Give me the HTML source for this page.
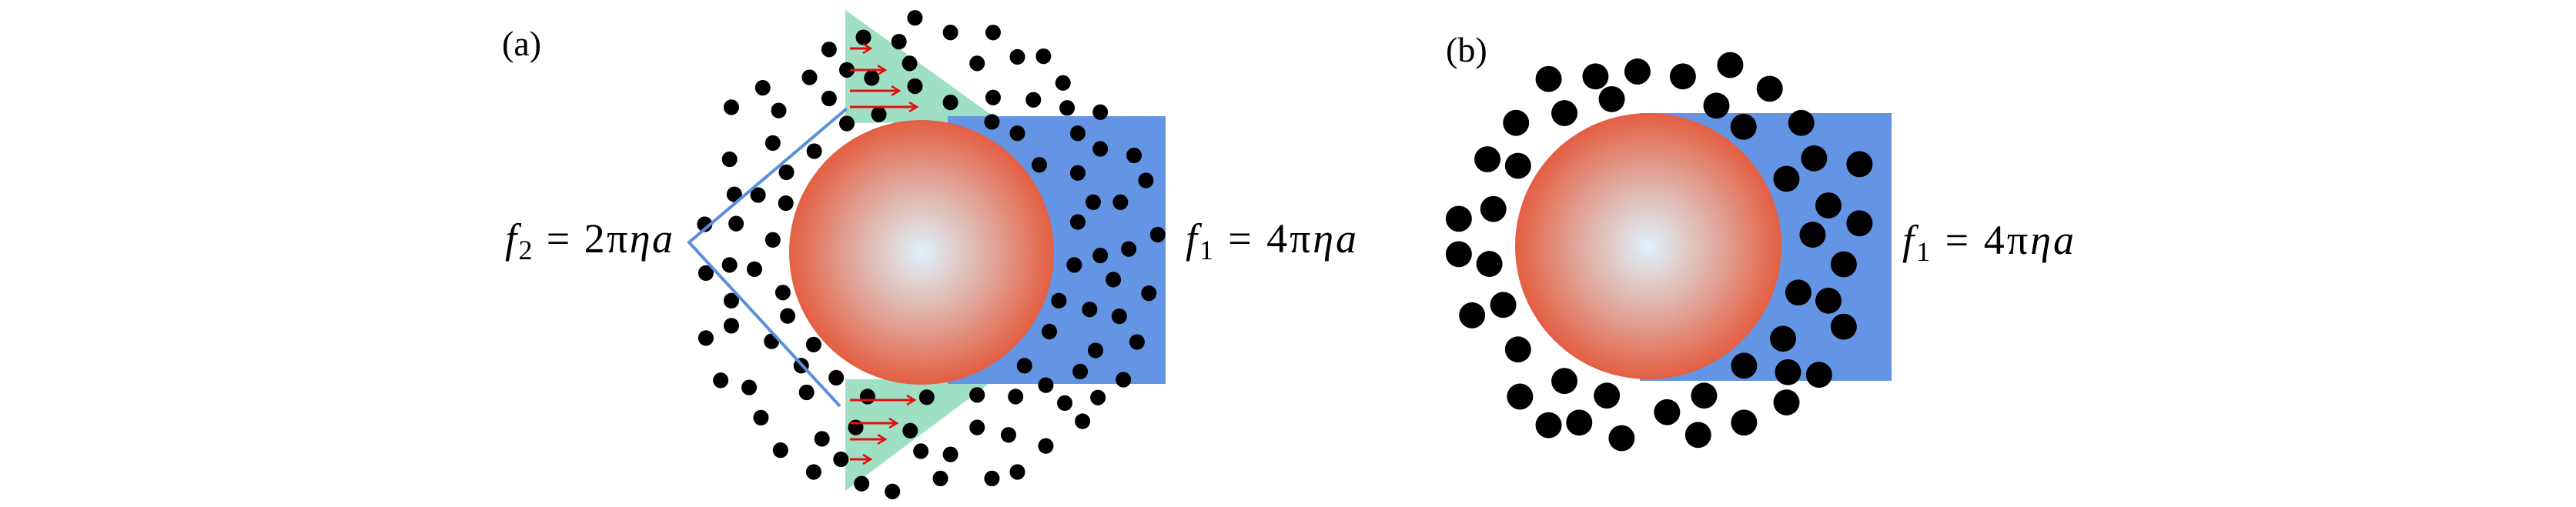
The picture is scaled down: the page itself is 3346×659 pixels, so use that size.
<!DOCTYPE html>
<html><head><meta charset="utf-8"><style>html,body{margin:0;padding:0;background:#fff;}svg{display:block}</style></head><body>
<svg width="3346" height="659" viewBox="0 0 3346 659" xmlns="http://www.w3.org/2000/svg">
<defs>
<radialGradient id="g" cx="0.5" cy="0.5" r="0.5">
<stop offset="0" stop-color="#dff2fb"/>
<stop offset="0.5" stop-color="#e0aca0"/>
<stop offset="1" stop-color="#e45e42"/>
</radialGradient>
<marker id="ah" markerWidth="14" markerHeight="14" refX="11" refY="7" orient="auto" markerUnits="userSpaceOnUse">
<path d="M1,1 L11,7 L1,13" fill="none" stroke="#e01010" stroke-width="2.5"/>
</marker>
</defs>
<rect width="3346" height="659" fill="#fff"/>
<!-- panel a -->
<polygon points="1098,13 1300,158 1098,160" fill="#9fe0c4"/>
<polygon points="1098,493 1292,493 1098,638" fill="#9fe0c4"/>
<rect x="1231" y="151" width="283" height="348" fill="#6495e4"/>
<circle cx="1197" cy="328" r="172" fill="url(#g)"/>
<g fill="#000" transform="translate(600,0) scale(0.7692,0.4225)">
<ellipse cx="765" cy="55" rx="13" ry="24"/><ellipse cx="825" cy="100" rx="13" ry="24"/><ellipse cx="897" cy="100" rx="13" ry="24"/><ellipse cx="678" cy="115" rx="13" ry="24"/><ellipse cx="738" cy="128" rx="13" ry="24"/><ellipse cx="620" cy="152" rx="13" ry="24"/><ellipse cx="938" cy="175" rx="13" ry="24"/><ellipse cx="982" cy="173" rx="13" ry="24"/><ellipse cx="756" cy="195" rx="13" ry="24"/><ellipse cx="870" cy="195" rx="13" ry="24"/><ellipse cx="587" cy="238" rx="13" ry="24"/><ellipse cx="650" cy="215" rx="13" ry="24"/><ellipse cx="692" cy="240" rx="13" ry="24"/><ellipse cx="1015" cy="255" rx="13" ry="24"/><ellipse cx="508" cy="270" rx="13" ry="24"/><ellipse cx="765" cy="265" rx="13" ry="24"/><ellipse cx="620" cy="303" rx="13" ry="24"/><ellipse cx="897" cy="300" rx="13" ry="24"/><ellipse cx="965" cy="307" rx="13" ry="24"/><ellipse cx="455" cy="330" rx="13" ry="24"/><ellipse cx="535" cy="340" rx="13" ry="24"/><ellipse cx="825" cy="315" rx="13" ry="24"/><ellipse cx="1022" cy="332" rx="13" ry="24"/><ellipse cx="1078" cy="345" rx="13" ry="24"/><ellipse cx="704" cy="352" rx="13" ry="24"/><ellipse cx="895" cy="375" rx="13" ry="24"/><ellipse cx="650" cy="380" rx="13" ry="24"/><ellipse cx="938" cy="410" rx="13" ry="24"/><ellipse cx="1040" cy="410" rx="13" ry="24"/><ellipse cx="525" cy="440" rx="13" ry="24"/><ellipse cx="595" cy="465" rx="13" ry="24"/><ellipse cx="1078" cy="458" rx="13" ry="24"/><ellipse cx="1135" cy="478" rx="13" ry="24"/><ellipse cx="452" cy="490" rx="13" ry="24"/><ellipse cx="975" cy="507" rx="13" ry="24"/><ellipse cx="548" cy="530" rx="13" ry="24"/><ellipse cx="1040" cy="532" rx="13" ry="24"/><ellipse cx="1155" cy="555" rx="13" ry="24"/><ellipse cx="460" cy="598" rx="13" ry="24"/><ellipse cx="500" cy="600" rx="13" ry="24"/><ellipse cx="547" cy="625" rx="13" ry="24"/><ellipse cx="1066" cy="622" rx="13" ry="24"/><ellipse cx="1112" cy="622" rx="13" ry="24"/><ellipse cx="410" cy="690" rx="13" ry="24"/><ellipse cx="463" cy="688" rx="13" ry="24"/><ellipse cx="1040" cy="683" rx="13" ry="24"/><ellipse cx="525" cy="738" rx="13" ry="24"/><ellipse cx="1175" cy="722" rx="13" ry="24"/><ellipse cx="1126" cy="766" rx="13" ry="24"/><ellipse cx="1078" cy="786" rx="13" ry="24"/><ellipse cx="452" cy="815" rx="13" ry="24"/><ellipse cx="494" cy="828" rx="13" ry="24"/><ellipse cx="412" cy="840" rx="13" ry="24"/><ellipse cx="1034" cy="815" rx="13" ry="24"/><ellipse cx="1100" cy="860" rx="13" ry="24"/><ellipse cx="542" cy="900" rx="13" ry="24"/><ellipse cx="1160" cy="902" rx="13" ry="24"/><ellipse cx="455" cy="925" rx="13" ry="24"/><ellipse cx="1008" cy="925" rx="13" ry="24"/><ellipse cx="1060" cy="952" rx="13" ry="24"/><ellipse cx="550" cy="972" rx="13" ry="24"/><ellipse cx="1110" cy="973" rx="13" ry="24"/><ellipse cx="455" cy="1002" rx="13" ry="24"/><ellipse cx="412" cy="1040" rx="13" ry="24"/><ellipse cx="992" cy="1020" rx="13" ry="24"/><ellipse cx="523" cy="1050" rx="13" ry="24"/><ellipse cx="594" cy="1060" rx="13" ry="24"/><ellipse cx="1140" cy="1052" rx="13" ry="24"/><ellipse cx="1070" cy="1078" rx="13" ry="24"/><ellipse cx="573" cy="1125" rx="13" ry="24"/><ellipse cx="950" cy="1125" rx="13" ry="24"/><ellipse cx="632" cy="1162" rx="13" ry="24"/><ellipse cx="1044" cy="1143" rx="13" ry="24"/><ellipse cx="437" cy="1170" rx="13" ry="24"/><ellipse cx="1117" cy="1168" rx="13" ry="24"/><ellipse cx="485" cy="1192" rx="13" ry="24"/><ellipse cx="582" cy="1207" rx="13" ry="24"/><ellipse cx="986" cy="1185" rx="13" ry="24"/><ellipse cx="685" cy="1220" rx="13" ry="24"/><ellipse cx="785" cy="1222" rx="13" ry="24"/><ellipse cx="870" cy="1215" rx="13" ry="24"/><ellipse cx="935" cy="1220" rx="13" ry="24"/><ellipse cx="1018" cy="1240" rx="13" ry="24"/><ellipse cx="1074" cy="1223" rx="13" ry="24"/><ellipse cx="505" cy="1285" rx="13" ry="24"/><ellipse cx="1048" cy="1296" rx="13" ry="24"/><ellipse cx="665" cy="1315" rx="13" ry="24"/><ellipse cx="757" cy="1325" rx="13" ry="24"/><ellipse cx="870" cy="1315" rx="13" ry="24"/><ellipse cx="923" cy="1338" rx="13" ry="24"/><ellipse cx="608" cy="1350" rx="13" ry="24"/><ellipse cx="986" cy="1372" rx="13" ry="24"/><ellipse cx="538" cy="1385" rx="13" ry="24"/><ellipse cx="775" cy="1388" rx="13" ry="24"/><ellipse cx="825" cy="1398" rx="13" ry="24"/><ellipse cx="640" cy="1413" rx="13" ry="24"/><ellipse cx="594" cy="1452" rx="13" ry="24"/><ellipse cx="938" cy="1452" rx="13" ry="24"/><ellipse cx="808" cy="1472" rx="13" ry="24"/><ellipse cx="895" cy="1472" rx="13" ry="24"/><ellipse cx="675" cy="1488" rx="13" ry="24"/><ellipse cx="727" cy="1512" rx="13" ry="24"/>
</g>
<polyline points="1100,141 895,315 1091,528" fill="none" stroke="#5b8fde" stroke-width="4"/>
<g stroke="#e01010" stroke-width="3" marker-end="url(#ah)">
<line x1="1104" y1="63" x2="1131" y2="63"/><line x1="1104" y1="91" x2="1150" y2="91"/><line x1="1104" y1="118" x2="1168" y2="118"/><line x1="1104" y1="139" x2="1191" y2="139"/>
<line x1="1104" y1="520" x2="1188" y2="520"/><line x1="1104" y1="550" x2="1165" y2="550"/><line x1="1104" y1="571" x2="1150" y2="571"/><line x1="1104" y1="597" x2="1131" y2="597"/>
</g>
<g font-family="Liberation Serif, serif" fill="#000">
<text x="652" y="72" font-size="46">(a)</text>
<text x="656" y="328" font-size="54" textLength="218"><tspan font-style="italic">f</tspan><tspan font-size="36" dy="9">2</tspan><tspan dy="-9"> = 2π</tspan><tspan font-style="italic">ηa</tspan></text>
<text x="1540" y="328" font-size="54" textLength="222"><tspan font-style="italic">f</tspan><tspan font-size="36" dy="9">1</tspan><tspan dy="-9"> = 4π</tspan><tspan font-style="italic">ηa</tspan></text>
<text x="1878" y="80" font-size="46">(b)</text>
<text x="2471" y="330" font-size="54" textLength="223"><tspan font-style="italic">f</tspan><tspan font-size="36" dy="9">1</tspan><tspan dy="-9"> = 4π</tspan><tspan font-style="italic">ηa</tspan></text>
</g>
<!-- panel b -->
<rect x="2130" y="147" width="327" height="348" fill="#6495e4"/>
<circle cx="2141" cy="320" r="173" fill="url(#g)"/>
<g fill="#000" transform="translate(1800,0) scale(0.641,0.4225)">
<ellipse cx="330" cy="243" rx="26.5" ry="40"/><ellipse cx="425" cy="235" rx="26.5" ry="40"/><ellipse cx="510" cy="220" rx="26.5" ry="40"/><ellipse cx="602" cy="235" rx="26.5" ry="40"/><ellipse cx="698" cy="200" rx="26.5" ry="40"/><ellipse cx="778" cy="273" rx="26.5" ry="40"/><ellipse cx="458" cy="305" rx="26.5" ry="40"/><ellipse cx="362" cy="348" rx="26.5" ry="40"/><ellipse cx="670" cy="325" rx="26.5" ry="40"/><ellipse cx="264" cy="378" rx="26.5" ry="40"/><ellipse cx="725" cy="390" rx="26.5" ry="40"/><ellipse cx="842" cy="378" rx="26.5" ry="40"/><ellipse cx="206" cy="490" rx="26.5" ry="40"/><ellipse cx="268" cy="510" rx="26.5" ry="40"/><ellipse cx="868" cy="487" rx="26.5" ry="40"/><ellipse cx="960" cy="505" rx="26.5" ry="40"/><ellipse cx="812" cy="550" rx="26.5" ry="40"/><ellipse cx="218" cy="643" rx="26.5" ry="40"/><ellipse cx="148" cy="673" rx="26.5" ry="40"/><ellipse cx="897" cy="632" rx="26.5" ry="40"/><ellipse cx="960" cy="687" rx="26.5" ry="40"/><ellipse cx="865" cy="722" rx="26.5" ry="40"/><ellipse cx="148" cy="782" rx="26.5" ry="40"/><ellipse cx="210" cy="812" rx="26.5" ry="40"/><ellipse cx="928" cy="813" rx="26.5" ry="40"/><ellipse cx="238" cy="938" rx="26.5" ry="40"/><ellipse cx="175" cy="970" rx="26.5" ry="40"/><ellipse cx="836" cy="900" rx="26.5" ry="40"/><ellipse cx="897" cy="925" rx="26.5" ry="40"/><ellipse cx="928" cy="1005" rx="26.5" ry="40"/><ellipse cx="805" cy="1042" rx="26.5" ry="40"/><ellipse cx="268" cy="1075" rx="26.5" ry="40"/><ellipse cx="726" cy="1125" rx="26.5" ry="40"/><ellipse cx="815" cy="1145" rx="26.5" ry="40"/><ellipse cx="878" cy="1153" rx="26.5" ry="40"/><ellipse cx="362" cy="1172" rx="26.5" ry="40"/><ellipse cx="448" cy="1217" rx="26.5" ry="40"/><ellipse cx="645" cy="1217" rx="26.5" ry="40"/><ellipse cx="272" cy="1220" rx="26.5" ry="40"/><ellipse cx="812" cy="1238" rx="26.5" ry="40"/><ellipse cx="570" cy="1268" rx="26.5" ry="40"/><ellipse cx="330" cy="1308" rx="26.5" ry="40"/><ellipse cx="392" cy="1300" rx="26.5" ry="40"/><ellipse cx="726" cy="1300" rx="26.5" ry="40"/><ellipse cx="478" cy="1348" rx="26.5" ry="40"/><ellipse cx="633" cy="1338" rx="26.5" ry="40"/>
</g>
</svg>
</body></html>
